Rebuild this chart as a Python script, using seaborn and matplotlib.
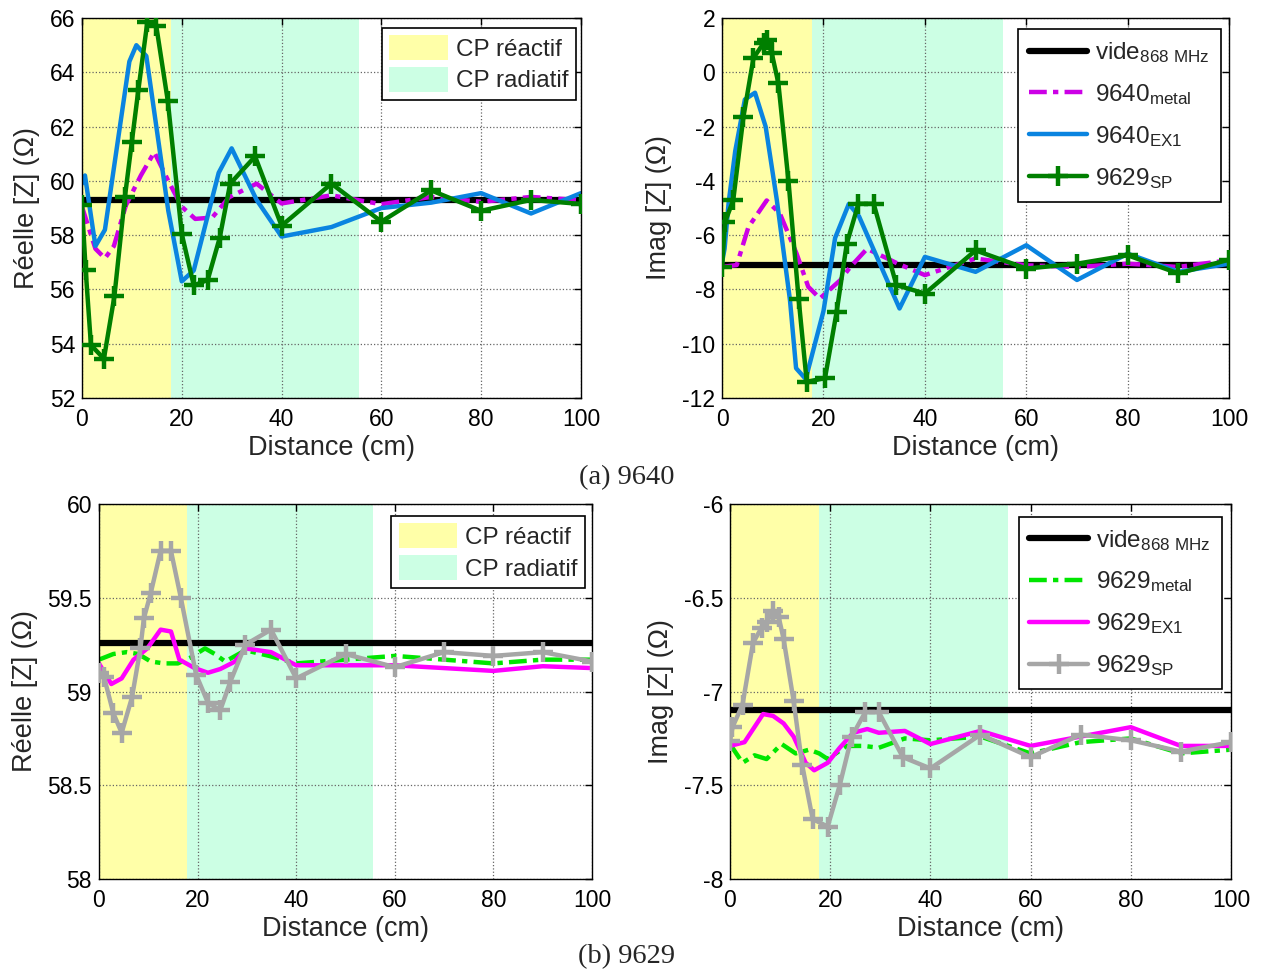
import matplotlib
matplotlib.use("Agg")
import matplotlib.pyplot as plt
import seaborn as sns
import pandas as pd
from matplotlib.lines import Line2D
from matplotlib.patches import Patch

# ---- data ----
distance_span = [0, 100]

# (a) 9640, real part
vide_re_9640 = [59.3, 59.3]
metal_re_9640_x = [0, 2.7, 4.6, 6.4, 8.8, 11.8, 14.5, 17.3, 20, 22.7, 26.1, 29.5, 35, 40, 50, 60, 70, 80, 90, 100]
metal_re_9640_y = [59.05, 57.5, 57.15, 57.6, 59.1, 60.2, 61.06, 60.0, 59.05, 58.6, 58.65, 59.4, 59.9, 59.17, 59.47, 59.14, 59.41, 59.23, 59.41, 59.29]
ex1_re_9640_x = [0, 0.6, 2.7, 4.6, 9.5, 10.9, 12.9, 17.3, 20, 22.4, 27.4, 30, 35, 40, 50, 60, 70, 80, 90, 100]
ex1_re_9640_y = [59.9, 60.2, 57.6, 58.2, 64.4, 65.0, 64.6, 58.9, 56.3, 56.7, 60.3, 61.2, 59.3, 57.95, 58.3, 59.0, 59.2, 59.55, 58.8, 59.55]
sp_re_9640_x = [0, 0.75, 1.8, 4.4, 6.5, 8.6, 10, 11.3, 13.1, 14.9, 17.2, 20, 22.4, 25.2, 27.6, 29.7, 34.7, 40, 50, 60, 70, 80, 90, 100]
sp_re_9640_y = [59.1, 56.7, 53.95, 53.45, 55.75, 59.4, 61.45, 63.35, 65.85, 65.7, 62.95, 58.05, 56.15, 56.35, 57.9, 59.9, 60.9, 58.35, 59.9, 58.5, 59.65, 58.9, 59.3, 59.15]

# (a) 9640, imaginary part
vide_im_9640 = [-7.1, -7.1]
metal_im_9640_x = [0, 2.9, 5.2, 8.8, 11.4, 14.7, 17, 19.3, 23.3, 25.3, 28.6, 34.7, 40, 50, 60, 70, 80, 90, 100]
metal_im_9640_y = [-7.17, -7.1, -5.7, -4.72, -5.2, -6.68, -7.9, -8.33, -7.66, -7.17, -6.5, -7.05, -7.47, -6.86, -7.11, -7.17, -7.05, -7.17, -6.92]
ex1_im_9640_x = [0, 0.5, 1.3, 2.6, 4.5, 6.5, 8.6, 10.8, 13.4, 14.6, 16.5, 20, 22.3, 25, 27, 35, 40, 50, 60, 70, 80, 90, 100]
ex1_im_9640_y = [-7.0, -6.5, -4.8, -2.9, -1.0, -0.75, -2.0, -4.7, -8.4, -10.9, -11.3, -8.8, -6.1, -4.85, -5.3, -8.7, -6.8, -7.35, -6.37, -7.65, -6.68, -7.35, -7.05]
sp_im_9640_x = [0, 0.6, 2.2, 4.2, 6.2, 8.2, 8.8, 9.8, 11.1, 13.1, 15.1, 16.7, 20.3, 22.6, 24.6, 26.9, 29.9, 34.4, 40, 50, 60, 70, 80, 90, 100]
sp_im_9640_y = [-7.17, -5.5, -4.72, -1.66, 0.53, 1.08, 1.2, 0.71, -0.39, -4.0, -8.34, -11.4, -11.27, -8.82, -6.31, -4.84, -4.84, -7.84, -8.15, -6.56, -7.23, -7.05, -6.74, -7.41, -6.9]

# (b) 9629, real part
vide_re_9629 = [59.26, 59.26]
metal_re_9629_x = [0, 2.9, 5.6, 8, 10.5, 13.2, 16, 18.5, 21.5, 23.5, 25.6, 29.7, 34.5, 40, 50, 60, 70, 80, 90, 100]
metal_re_9629_y = [59.17, 59.2, 59.21, 59.2, 59.16, 59.15, 59.15, 59.18, 59.23, 59.2, 59.16, 59.22, 59.19, 59.15, 59.17, 59.19, 59.17, 59.15, 59.17, 59.17]
ex1_re_9629_x = [0, 2.5, 4.6, 7, 9.8, 12.5, 14.6, 16.3, 19.4, 22.1, 24.6, 27.6, 29.7, 34.9, 40, 50, 60, 70, 80, 90, 100]
ex1_re_9629_y = [59.15, 59.04, 59.07, 59.17, 59.23, 59.33, 59.32, 59.17, 59.125, 59.1, 59.12, 59.16, 59.23, 59.21, 59.14, 59.14, 59.14, 59.125, 59.11, 59.135, 59.125]
sp_re_9629_x = [0, 1, 2.9, 4.6, 6.7, 8.4, 9.1, 10.5, 12.5, 14.6, 16.6, 19.7, 22.1, 24.6, 26.6, 29.7, 34.9, 40, 50, 60, 70, 80, 90, 100]
sp_re_9629_y = [59.1, 59.08, 58.885, 58.78, 58.97, 59.23, 59.39, 59.525, 59.75, 59.75, 59.5, 59.09, 58.94, 58.9, 59.05, 59.25, 59.33, 59.07, 59.2, 59.13, 59.21, 59.19, 59.21, 59.16]

# (b) 9629, imaginary part
vide_im_9629 = [-7.1, -7.1]
metal_im_9629_x = [0, 2.5, 4.9, 7.3, 10.3, 13.1, 15.8, 17.8, 19.5, 23.3, 26.7, 29.7, 34.9, 40, 50, 60, 70, 80, 90, 100]
metal_im_9629_y = [-7.28, -7.38, -7.34, -7.36, -7.28, -7.33, -7.31, -7.33, -7.36, -7.29, -7.29, -7.30, -7.25, -7.26, -7.24, -7.33, -7.27, -7.25, -7.33, -7.31]
ex1_im_9629_x = [0, 2.9, 6.6, 8.6, 10.7, 12.7, 15.1, 16.8, 19.5, 21.9, 24.6, 27.4, 29.7, 34.9, 40, 50, 60, 70, 80, 90, 100]
ex1_im_9629_y = [-7.29, -7.27, -7.12, -7.13, -7.17, -7.24, -7.38, -7.42, -7.38, -7.30, -7.22, -7.20, -7.22, -7.21, -7.28, -7.21, -7.29, -7.24, -7.19, -7.29, -7.29]
sp_im_9629_x = [0, 0.5, 2.5, 4.6, 6.3, 7.3, 8.6, 9.7, 10.7, 12.7, 14.4, 16.5, 19.5, 21.9, 24.3, 27, 29.7, 34.5, 40, 50, 60, 70, 80, 90, 100]
sp_im_9629_y = [-7.265, -7.19, -7.07, -6.74, -6.66, -6.63, -6.57, -6.6, -6.72, -7.05, -7.39, -7.68, -7.72, -7.5, -7.24, -7.11, -7.11, -7.35, -7.41, -7.23, -7.35, -7.23, -7.26, -7.32, -7.27]

# near field zones (cm)
reactive_zone = [0, 17.8]
radiative_zone = [17.8, 55.5]

sns.set_style("white")
plt.rcParams["font.family"] = ["Liberation Sans", "DejaVu Sans"]
plt.rcParams["mathtext.default"] = "regular"
plt.rcParams["axes.unicode_minus"] = False

YELLOW = "#ffffa8"
MINT = "#ccffe4"
DASHDOT = (0, (4, 1.4, 1.2, 1.4))


def style_axes(ax, ylim, yticks, ylabel):
    ax.axvspan(*reactive_zone, color=YELLOW, lw=0, zorder=0.1)
    ax.axvspan(*radiative_zone, color=MINT, lw=0, zorder=0.1)
    ax.set_xlim(0, 100)
    ax.set_ylim(*ylim)
    ax.set_xticks(range(0, 101, 20))
    ax.set_yticks(yticks)
    ax.set_yticklabels([f"{t:g}" for t in yticks])
    ax.grid(True, color="0.4", ls=":", lw=0.9)
    ax.set_axisbelow(True)
    ax.tick_params(direction="in", length=5, width=1, top=True, right=True,
                   labelsize=16.5, colors="black")
    ax.tick_params(axis="x", pad=7)
    ax.tick_params(axis="y", pad=5)
    for s in ax.spines.values():
        s.set_color("black")
        s.set_linewidth(1.0)
    ax.set_xlabel("Distance (cm)", fontsize=19.5, labelpad=3)
    ax.set_ylabel(ylabel, fontsize=19.5, labelpad=7)


def draw_series(ax, x, y, color, lw, ls="-", marker=None, z=2):
    df = pd.DataFrame({"x": x, "y": y})
    kw = {}
    if marker:
        kw = dict(marker=marker, markersize=15, markeredgewidth=3.2,
                  markeredgecolor=color, markerfacecolor=color)
    sns.lineplot(data=df, x="x", y="y", ax=ax, color=color, lw=lw, ls=ls,
                 errorbar=None, legend=False, zorder=z, **kw)


def zone_legend(ax, anchor):
    handles = [Patch(facecolor=YELLOW, edgecolor="none", label="CP réactif"),
               Patch(facecolor=MINT, edgecolor="none", label="CP radiatif")]
    leg = ax.legend(handles=handles, loc="upper right", bbox_to_anchor=anchor,
                    fontsize=17.5, fancybox=False, framealpha=1, edgecolor="black",
                    handlelength=2.4, handleheight=1.2, borderaxespad=0,
                    labelspacing=0.25, handletextpad=0.35, borderpad=0.3)
    leg.get_frame().set_linewidth(1.2)


def line_legend(ax, anchor, names, colors, sp_color):
    handles = [Line2D([], [], color="black", lw=4.5, label=names[0]),
               Line2D([], [], color=colors[0], lw=3.2, ls=DASHDOT, label=names[1]),
               Line2D([], [], color=colors[1], lw=3.2, label=names[2]),
               Line2D([], [], color=sp_color, lw=3.2, marker="+", ms=15, mew=3.2,
                      label=names[3])]
    leg = ax.legend(handles=handles, loc="upper right", bbox_to_anchor=anchor,
                    fontsize=17.5, fancybox=False, framealpha=1, edgecolor="black",
                    handlelength=2.4, borderaxespad=0, labelspacing=0.7,
                    handletextpad=0.35, borderpad=0.45)
    leg.get_frame().set_linewidth(1.2)


fig = plt.figure(figsize=(12.61, 9.72), dpi=100)
ax1 = fig.add_axes([0.0650, 0.5905, 0.3957, 0.3909])
ax2 = fig.add_axes([0.5726, 0.5905, 0.4021, 0.3909])
ax3 = fig.add_axes([0.0785, 0.0956, 0.3910, 0.3859])
ax4 = fig.add_axes([0.5789, 0.0956, 0.3973, 0.3859])

# (a) 9640
style_axes(ax1, (52, 66), list(range(52, 67, 2)), "Réelle [Z] (Ω)")
draw_series(ax1, distance_span, vide_re_9640, "black", 4.5)
draw_series(ax1, metal_re_9640_x, metal_re_9640_y, "#cc00e6", 3.2, ls=DASHDOT)
draw_series(ax1, ex1_re_9640_x, ex1_re_9640_y, "#0a84e0", 3.2)
draw_series(ax1, sp_re_9640_x, sp_re_9640_y, "#007f00", 3.2, marker="+", z=3)
zone_legend(ax1, (0.99, 0.975))

style_axes(ax2, (-12, 2), list(range(-12, 3, 2)), "Imag [Z] (Ω)")
draw_series(ax2, distance_span, vide_im_9640, "black", 4.5)
draw_series(ax2, metal_im_9640_x, metal_im_9640_y, "#cc00e6", 3.2, ls=DASHDOT)
draw_series(ax2, ex1_im_9640_x, ex1_im_9640_y, "#0a84e0", 3.2)
draw_series(ax2, sp_im_9640_x, sp_im_9640_y, "#007f00", 3.2, marker="+", z=3)
line_legend(ax2, (0.984, 0.971),
            [r"vide$_{868\ MHz}$", r"9640$_{metal}$", r"9640$_{EX1}$", r"9629$_{SP}$"],
            ["#cc00e6", "#0a84e0"], "#007f00")

# (b) 9629
style_axes(ax3, (58, 60), [58, 58.5, 59, 59.5, 60], "Réelle [Z] (Ω)")
draw_series(ax3, distance_span, vide_re_9629, "black", 4.5)
draw_series(ax3, metal_re_9629_x, metal_re_9629_y, "#00e600", 3.2, ls=DASHDOT)
draw_series(ax3, ex1_re_9629_x, ex1_re_9629_y, "#ff00ff", 3.2)
draw_series(ax3, sp_re_9629_x, sp_re_9629_y, "#a6a6a6", 3.2, marker="+", z=3)
zone_legend(ax3, (0.986, 0.968))

style_axes(ax4, (-8, -6), [-8, -7.5, -7, -6.5, -6], "Imag [Z] (Ω)")
draw_series(ax4, distance_span, vide_im_9629, "black", 4.5)
draw_series(ax4, metal_im_9629_x, metal_im_9629_y, "#00e600", 3.2, ls=DASHDOT)
draw_series(ax4, ex1_im_9629_x, ex1_im_9629_y, "#ff00ff", 3.2)
draw_series(ax4, sp_im_9629_x, sp_im_9629_y, "#a6a6a6", 3.2, marker="+", z=3)
line_legend(ax4, (0.982, 0.966),
            [r"vide$_{868\ MHz}$", r"9629$_{metal}$", r"9629$_{EX1}$", r"9629$_{SP}$"],
            ["#00e600", "#ff00ff"], "#a6a6a6")

fig.text(627 / 1261, 1 - 478 / 972, "(a) 9640", ha="center", va="center",
         fontsize=20.5, family="Liberation Serif")
fig.text(627 / 1261, 1 - 957 / 972, "(b) 9629", ha="center", va="center",
         fontsize=20.5, family="Liberation Serif")

fig.savefig("out.png", dpi=100)
